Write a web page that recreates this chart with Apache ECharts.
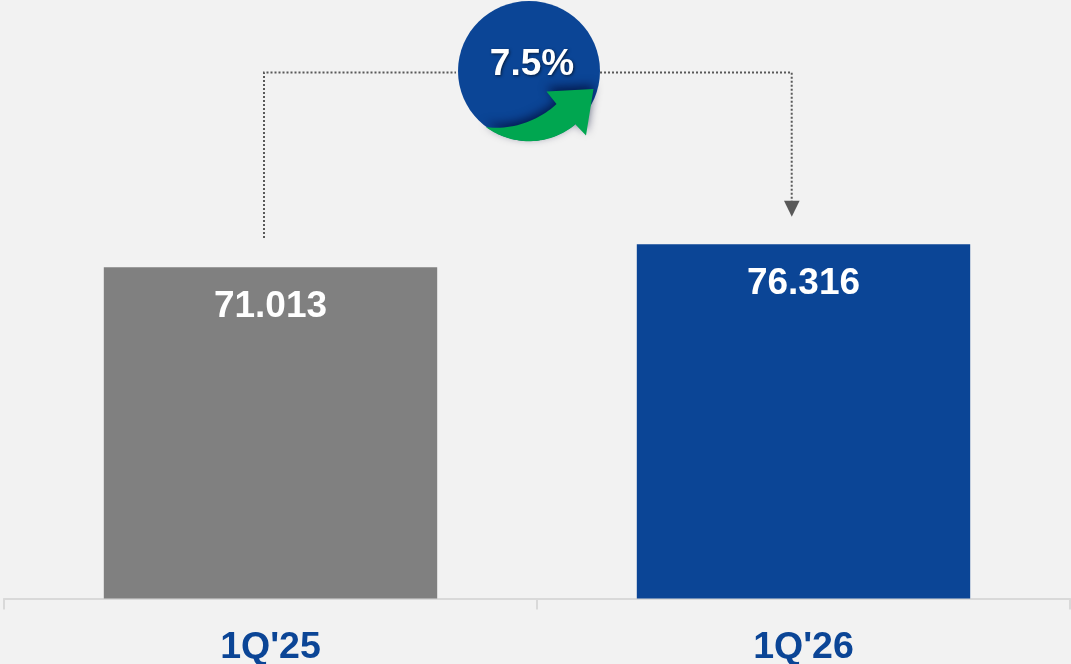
<!DOCTYPE html>
<html><head><meta charset="utf-8">
<style>html,body{margin:0;padding:0;background:#f2f2f2}#c{width:1071px;height:664px}</style>
<script src="https://cdn.jsdelivr.net/npm/echarts@6/dist/echarts.min.js"></script>
</head><body><div id="c"></div>
<script>
const categories = ["1Q'25", "1Q'26"];
const values = [71.013, 76.316];
const barColors = ['#808080', '#0b4596'];
const growthLabel = '7.5%';

const chart = echarts.init(document.getElementById('c'), null, {renderer: 'canvas'});
const font = '"Liberation Sans", Arial, sans-serif';
const line = {stroke: '#595959', lineWidth: 2, lineDash: [2, 2], fill: null};
function bez(p0, p1, p2, p3) {
  const out = [];
  for (let k = 0; k <= 24; k++) {
    const t = k / 24, u = 1 - t;
    out.push([0, 1].map(d => u*u*u*p0[d] + 3*u*u*t*p1[d] + 3*u*t*t*p2[d] + t*t*t*p3[d]));
  }
  return out;
}
// Outer edge of the green swoosh follows the badge rim, just outside it.
const rim = [];
for (let k = 0; k <= 40; k++) {
  const a = (127 + (50 - 127) * k / 40) * Math.PI / 180;
  rim.push([529 + 71.6 * Math.cos(a), 71 + 70.2 * Math.sin(a)]);
}
const swoosh = [].concat(
  rim,
  [[574.5,123.5], [586,135.5], [593.5,89], [546.5,91.5], [556.5,104]],
  bez([556.5,104], [542,118], [515,131], [486,127])
);
chart.setOption({
  animation: false,
  backgroundColor: '#f2f2f2',
  grid: {left: 4, right: 1, top: 0, bottom: 65.5, containLabel: false, outerBoundsMode: 'none'},
  xAxis: {
    type: 'category', data: categories,
    axisLine: {show: true, onZero: false, lineStyle: {color: '#d9d9d9', width: 2}},
    axisTick: {show: true, length: 11, lineStyle: {color: '#d9d9d9', width: 2}},
    axisLabel: {color: '#0b4596', fontFamily: font, fontWeight: 'bold', fontSize: 37.5, margin: 30, interval: 0}
  },
  yAxis: {type: 'value', min: -5.3, max: 132.6, show: false, splitLine: {show: false}},
  series: [{
    type: 'custom',
    encode: {x: 0, y: 1},
    data: values.map((v, i) => [i, v]),
    renderItem(params, api) {
      const i = api.value(0);
      const top = api.coord([i, api.value(1)]);
      const base = api.coord([i, -5.3]);
      const w = api.size([1, 0])[0] * 0.6255;
      return {
        type: 'group',
        children: [
          {type: 'rect', shape: {x: top[0] - w / 2, y: top[1], width: w, height: base[1] - top[1]},
           style: {fill: barColors[i]}},
          {type: 'text', style: {x: top[0], y: top[1] + 40, text: values[i].toFixed(3), fill: '#fff',
            font: 'bold 37px ' + font, align: 'center', verticalAlign: 'middle'}}
        ]
      };
    }
  }],
  graphic: [
    {type: 'polyline', silent: true, shape: {points: [[264, 238], [264, 72.5], [456, 72.5]]}, style: line},
    {type: 'polyline', silent: true, shape: {points: [[600, 72.5], [791.7, 72.5], [791.7, 201]]}, style: line},
    {type: 'polygon', silent: true, shape: {points: [[784, 200.7], [799.6, 200.7], [791.8, 216.7]]}, style: {fill: '#595959'}},
    {type: 'ellipse', silent: true, shape: {cx: 529, cy: 71, rx: 71, ry: 70}, style: {fill: '#0b4596'}},
    {type: 'polygon', silent: true, shape: {points: swoosh},
      style: {fill: '#00a650', shadowBlur: 10, shadowColor: 'rgba(0,10,50,0.7)', shadowOffsetY: -4}},
    {type: 'text', silent: true, style: {x: 532, y: 65, text: growthLabel, fill: '#fff', font: 'bold 37px ' + font,
      align: 'center', verticalAlign: 'middle', textShadowColor: 'rgba(0,0,0,0.6)', textShadowBlur: 3, textShadowOffsetX: 1, textShadowOffsetY: 1}}
  ]
});
</script></body></html>
